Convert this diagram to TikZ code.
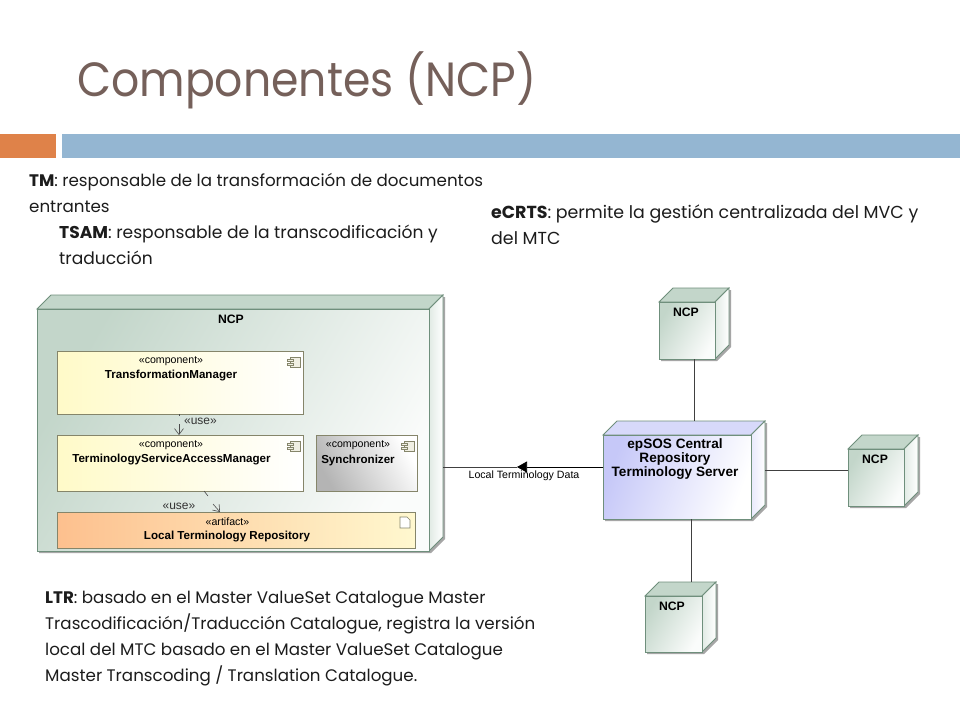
\documentclass[tikz,border=0pt]{standalone}
\usepackage{fontspec}
\setmainfont{Poppins}
\newfontfamily\umlfont{Liberation Sans}
\newfontfamily\titlefont[FakeStretch=0.92]{Poppins}
\usetikzlibrary{arrows.meta,positioning,backgrounds}
\definecolor{titlebrown}{HTML}{75605A}
\definecolor{barorange}{HTML}{DF8249}
\definecolor{barblue}{HTML}{94B6D2}
\definecolor{inkdark}{HTML}{1C1C1C}
\definecolor{cubeline}{HTML}{6F8F7C}
\definecolor{boxline}{HTML}{85856A}
\definecolor{nodegreen}{HTML}{C3D6CA}
\definecolor{nodeblue}{HTML}{C6C8F8}
\definecolor{compyellow}{HTML}{FFFAC8}
\definecolor{artorange}{HTML}{FDC08E}
\definecolor{artyellow}{HTML}{FFF8CF}
\definecolor{syncgray}{HTML}{B4B4B4}
\tikzset{
  cube/.style    ={draw=cubeline,line width=0.8pt,outer sep=0pt,inner sep=0pt,anchor=north west},
  greencube/.style={cube,left color=nodegreen,right color=nodegreen!8,shading angle=60},
  bluecube/.style ={cube,left color=nodeblue,right color=white,shading angle=70},
  partbox/.style ={draw=boxline,line width=0.7pt,outer sep=0pt,inner sep=0pt,anchor=north west},
  compbox/.style ={partbox,left color=compyellow,right color=white},
  syncbox/.style ={partbox,left color=syncgray,right color=white,shading angle=120},
  artbox/.style  ={partbox,left color=artorange,right color=artyellow},
  stereo/.style  ={font=\umlfont\fontsize{10.6}{12}\selectfont,text=black,inner sep=0pt},
  partname/.style={font=\umlfont\bfseries\fontsize{11.6}{13}\selectfont,text=black,inner sep=0pt},
  cubename/.style={font=\umlfont\bfseries\fontsize{12.2}{14}\selectfont,text=black,inner sep=0pt,align=center},
  usetag/.style  ={font=\umlfont\fontsize{12}{13}\selectfont,text=black!80,inner sep=0pt},
  note/.style    ={font=\fontsize{16.7}{26}\selectfont,text=inkdark,inner sep=0pt,anchor=north west,align=left},
  link/.style    ={line width=0.7pt,draw=black!75},
  usearrow/.style={-{Straight Barb[length=6pt,width=9pt]},line width=0.6pt,draw=black!70},
  usetick/.style ={line width=0.6pt,draw=black!70}
}
% side and top faces of a cube, behind its front node
\newcommand{\cubefaces}[3]{
  \begin{scope}[on background layer]
    \fill[black!35] ([shift={(2,2)}]#1.north west) -- ++(14,-14) -- ([shift={(16,-12)}]#1.north east)
      -- ([shift={(16,-12)}]#1.south east) -- ([shift={(2,2)}]#1.south east) -- ([shift={(2,2)}]#1.south west) -- cycle;
    \draw[cube,fill=#2] (#1.north west) -- ++(14,-14) -- ([shift={(14,-14)}]#1.north east) -- (#1.north east) -- cycle;
    \draw[cube,left color=#3,right color=white] (#1.north east) -- ++(14,-14) -- ([shift={(14,-14)}]#1.south east) -- (#1.south east) -- cycle;
  \end{scope}
}
\newcommand{\partshadow}[1]{
  \begin{scope}[on background layer]
    \fill[black!40] ([shift={(2,2)}]#1.north west) rectangle ([shift={(2,2)}]#1.south east);
  \end{scope}
}
\newcommand{\compicon}[1]{
  \draw[boxline,line width=0.6pt,fill=compyellow!60!boxline!30] ([shift={(-13,6)}]#1.north east) rectangle ++(10,10);
  \draw[boxline,line width=0.6pt,fill=compyellow!60!boxline!30] ([shift={(-16,8)}]#1.north east) rectangle ++(6,2.5);
  \draw[boxline,line width=0.6pt,fill=compyellow!60!boxline!30] ([shift={(-16,12)}]#1.north east) rectangle ++(6,2.5);
}
\begin{document}
\begin{tikzpicture}[x=1pt,y=-1pt]
  \useasboundingbox (0,0) rectangle (960,720);
  \begin{scope}[on background layer]
    \fill[white] (0,0) rectangle (960,720);
  \end{scope}
  % header
  \node[font=\titlefont\fontsize{48}{60}\selectfont,text=titlebrown,inner sep=0pt,anchor=base west] (title) at (77,96) {Componentes (NCP)};
  \node[fill=barorange,minimum width=56pt,minimum height=24pt,inner sep=0pt,outer sep=0pt,anchor=north west] (orangebar) at (0,134) {};
  \node[fill=barblue,minimum width=898pt,minimum height=24pt,inner sep=0pt,outer sep=0pt,right=6pt of orangebar] (bluebar) {};
  % notes
  \node[note] (tmnote) at (29,173) {\textbf{TM}: responsable de la transformación de documentos\\entrantes};
  \node[note,font=\fontsize{17.1}{26}\selectfont] (tsamnote) at (59,225) {\textbf{TSAM}: responsable de la transcodificación y\\traducción};
  \node[note,font=\fontsize{17.4}{26}\selectfont] (ecrtsnote) at (491,205) {\textbf{eCRTS}: permite la gestión centralizada del MVC y\\del MTC};
  \node[note] (ltrnote) at (45,591) {\textbf{LTR}: basado en el Master ValueSet Catalogue  Master\\Trascodificación/Traducción Catalogue, registra la versión\\local del MTC basado en el  Master ValueSet Catalogue\\Master Transcoding / Translation Catalogue.};
  % NCP with its parts
  \node[greencube,minimum width=392pt,minimum height=242pt] (ncpbig) at (37,309) {};
  \cubefaces{ncpbig}{nodegreen}{nodegreen!50}
  \node[cubename] (ncpbiglabel) at (231,319) {NCP};
  \node[compbox,minimum width=246pt,minimum height=63pt] (tm) at (57,351) {};
  \node[compbox,minimum width=246pt,minimum height=56pt,below=21pt of tm.south west,anchor=north west] (tsam) {};
  \node[syncbox,minimum width=101pt,minimum height=56pt,right=13pt of tsam.north east,anchor=north west] (sync) {};
  \node[artbox,minimum width=358pt,minimum height=36pt,below=21pt of tsam.south west,anchor=north west] (ltr) {};
  \partshadow{tm}\partshadow{tsam}\partshadow{sync}\partshadow{ltr}
  \compicon{tm}\compicon{tsam}\compicon{sync}
  \draw[boxline,line width=0.6pt,fill=white] ([shift={(-15,5)}]ltr.north east) -- ++(7,0) -- ++(3,3) -- ++(0,8) -- ++(-10,0) -- cycle;
  \node[stereo] (tmstereo) at (171,361) {«component»};
  \node[partname] (tmname) at (171,376) {TransformationManager};
  \node[stereo] (tsamstereo) at (171,445) {«component»};
  \node[partname] (tsamname) at (171.5,460) {TerminologyServiceAccessManager};
  \node[stereo] (syncstereo) at (358,445) {«component»};
  \node[partname] (syncname) at (358,460) {Synchronizer};
  \node[stereo] (ltrstereo) at (227.5,522) {«artifact»};
  \node[partname] (ltrname) at (227,537) {Local Terminology Repository};
  \node[usetag] (usea) at (200.5,421) {«use»};
  \node[usetag] (useb) at (179,506) {«use»};
  \coordinate (usefroma) at (179,424);
  \coordinate (usetoa) at (179,435);
  \coordinate (usefromb) at (213,504);
  \coordinate (usetob) at (220,512);
  \draw[usetick] (179,414) -- (179,416);
  \draw[usearrow] (usefroma) -- (usetoa);
  \draw[usetick] (204,491) -- (208,496);
  \draw[usearrow] (usefromb) -- (usetob);
  % central server and the other NCPs
  \node[bluecube,minimum width=148pt,minimum height=84pt] (epsos) at (603,435) {};
  \cubefaces{epsos}{nodeblue!70}{nodeblue!40}
  \node[cubename,font=\umlfont\bfseries\fontsize{13.6}{14}\selectfont] (epsoslabel) at (675,459) {epSOS Central\\Repository\\Terminology Server};
  \node[greencube,minimum width=56pt,minimum height=57pt] (ncpa) at (659,302) {};
  \cubefaces{ncpa}{nodegreen}{nodegreen!50}
  \node[cubename] (ncpalabel) at (686,312) {NCP};
  \node[greencube,minimum width=56pt,minimum height=57pt] (ncpb) at (848,449) {};
  \cubefaces{ncpb}{nodegreen}{nodegreen!50}
  \node[cubename] (ncpblabel) at (875,459) {NCP};
  \node[greencube,minimum width=57pt,minimum height=56pt] (ncpc) at (645,596) {};
  \cubefaces{ncpc}{nodegreen}{nodegreen!50}
  \node[cubename] (ncpclabel) at (672,606) {NCP};
  % connectors
  \coordinate (epsostop) at ([yshift=14pt]epsos.north);
  \coordinate (epsosright) at ([xshift=14pt]epsos.east);
  \coordinate (ncpctop) at ([xshift=17.5pt,yshift=14pt]ncpc.north);
  \coordinate (ncpbigright) at ([xshift=14pt]ncpbig.east);
  \coordinate (arrowtip) at (517,467);
  \draw[link] ([xshift=7pt]ncpa.south) -- ([xshift=7pt]ncpa.south |- epsostop);
  \draw[link] ([yshift=7.5pt]ncpb.west) -- ([yshift=7.5pt]ncpb.west -| epsosright);
  \draw[link] (ncpctop) -- (ncpctop |- epsos.south);
  \draw[link] (arrowtip) -- (arrowtip -| ncpbigright);
  \draw[link,-{Triangle[length=10pt,width=11pt]},draw=black,fill=black] (arrowtip -| epsos.west) -- (arrowtip);
  \node[font=\umlfont\fontsize{10.6}{12}\selectfont,text=black,inner sep=0pt] (datalabel) at (524,476) {Local Terminology Data};
\end{tikzpicture}
\end{document}
